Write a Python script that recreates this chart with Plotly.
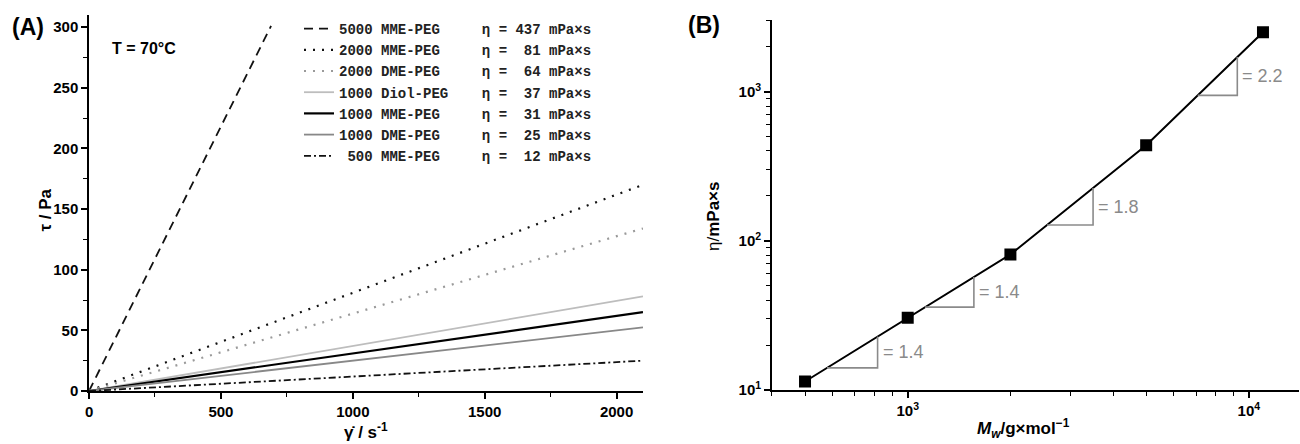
import plotly.graph_objects as go
import numpy as np

NB = "\u00a0"

# ---------------- Panel A data ----------------
series_names = ["5000 MME-PEG", "2000 MME-PEG", "2000 DME-PEG", "1000 Diol-PEG",
                "1000 MME-PEG", "1000 DME-PEG", "500 MME-PEG"]
series_eta = [437, 81, 64, 37, 31, 25, 12]
series_x = [[0, 690], [0, 2100], [0, 2100], [0, 2100], [0, 2100], [0, 2100], [0, 2100]]
series_tau = [[0, 301], [0, 170], [0, 134], [0, 78], [0, 65], [0, 52.5], [0, 25]]
series_color = ["#111111", "#111111", "#9a9a9a", "#bdbdbd", "#000000", "#888888", "#111111"]
series_dash = ["9px,6px", "2px,7px", "2px,7px", "solid", "solid", "solid", "7px,3px,2px,3px"]
series_width = [1.8, 2.2, 2.2, 1.8, 2.2, 1.8, 1.8]

x_ticks_A = [0, 500, 1000, 1500, 2000]
y_ticks_A = [0, 50, 100, 150, 200, 250, 300]

# ---------------- Panel B data ----------------
Mw = [500, 1000, 2000, 5000, 11000]
eta = [11.4, 30.5, 81, 437, 2500]
tri_x0 = [580, 1124, 2560, 7080]
tri_x1 = [816, 1563, 3494, 9250]
tri_labels = ["= 1.4", "= 1.4", "= 1.8", "= 2.2"]

y_ticks_B = [10, 100, 1000]
y_ticktext_B = ["10<sup>1</sup>", "10<sup>2</sup>", "10<sup>3</sup>"]
x_ticks_B = [1000, 10000]
x_ticktext_B = ["10<sup>3</sup>", "10<sup>4</sup>"]
y_minor_B = [20, 30, 40, 50, 60, 70, 80, 90, 200, 300, 400, 500, 600, 700, 800, 900, 2000, 3000]
x_minor_B = [400, 500, 600, 700, 800, 900, 2000, 3000, 4000, 5000, 6000, 7000, 8000, 9000]

FONT = "Liberation Sans, Arial, sans-serif"
MONO = "Liberation Mono, Courier New, monospace"

fig = go.Figure()


def legend_label(name, e):
    nm = name if not name.startswith("500 ") else " " + name
    nm = nm.ljust(17)
    es = "η = " + str(e).rjust(3) + " mPa×s"
    return (nm + es).replace(" ", NB)


for i, nm in enumerate(series_names):
    fig.add_trace(go.Scatter(
        x=series_x[i], y=series_tau[i], mode="lines",
        line=dict(color=series_color[i], dash=series_dash[i], width=series_width[i]),
        name=legend_label(nm, series_eta[i]), xaxis="x", yaxis="y"))

# Panel B line + markers
fig.add_trace(go.Scatter(
    x=Mw, y=eta, mode="lines+markers", showlegend=False,
    line=dict(color="black", width=2),
    marker=dict(symbol="square", size=12, color="black"),
    xaxis="x2", yaxis="y2"))

# slope triangles
lx = np.log10(Mw)
ly = np.log10(eta)
for x0, x1, lab in zip(tri_x0, tri_x1, tri_labels):
    y0 = 10 ** np.interp(np.log10(x0), lx, ly)
    y1 = 10 ** np.interp(np.log10(x1), lx, ly)
    fig.add_trace(go.Scatter(
        x=[x0, x1, x1], y=[y0, y0, y1], mode="lines", showlegend=False,
        line=dict(color="#8a8a8a", width=1.6), xaxis="x2", yaxis="y2"))
    fig.add_annotation(
        x=np.log10(x1), y=(np.log10(y0) + np.log10(y1)) / 2, xref="x2", yref="y2",
        text=lab, showarrow=False, xanchor="left", yanchor="middle", xshift=3,
        font=dict(family=FONT, size=18, color="#8a8a8a"))

axis_common = dict(showline=True, linecolor="black", linewidth=1.6, ticks="outside",
                   ticklen=6, tickwidth=1.5, tickcolor="black", showgrid=False,
                   zeroline=False, mirror=False, automargin=False,
                   tickfont=dict(family=FONT, size=15, color="black", weight="bold"))

fig.update_layout(
    template="none",
    width=1300, height=444,
    margin=dict(l=0, r=0, t=0, b=0, autoexpand=False),
    paper_bgcolor="white", plot_bgcolor="white",
    xaxis=dict(domain=[0.0685, 0.4946], range=[0, 2100], anchor="y",
               tickmode="array", tickvals=x_ticks_A,
               minor=dict(ticks="outside", ticklen=4, tickwidth=1.3, tickcolor="black", dtick=250),
               **axis_common),
    yaxis=dict(domain=[0.1194, 0.9662], range=[0, 310], anchor="x",
               tickmode="array", tickvals=y_ticks_A,
               minor=dict(ticks="outside", ticklen=4, tickwidth=1.3, tickcolor="black", dtick=25),
               **axis_common),
    xaxis2=dict(domain=[0.5938, 0.9995], type="log", range=[2.602, 4.148], anchor="y2",
                tickmode="array", tickvals=x_ticks_B, ticktext=x_ticktext_B,
                minor=dict(ticks="outside", ticklen=4, tickwidth=1.3, tickcolor="black",
                           tickvals=x_minor_B),
                **axis_common),
    yaxis2=dict(domain=[0.1216, 0.955], type="log", range=[1, 3.48], anchor="x2",
                tickmode="array", tickvals=y_ticks_B, ticktext=y_ticktext_B,
                minor=dict(ticks="outside", ticklen=4, tickwidth=1.3, tickcolor="black",
                           tickvals=y_minor_B),
                **axis_common),
    legend=dict(x=299 / 1300, y=1 - 13 / 444, xanchor="left", yanchor="top",
                bgcolor="rgba(0,0,0,0)", borderwidth=0,
                font=dict(family=MONO, size=14, color="#222222", weight="bold"),
                tracegroupgap=0),
    showlegend=True,
)

annots = [
    dict(x=10 / 1300, y=1 - 27 / 444, text="<b>(A)</b>", size=23, xanchor="left"),
    dict(x=686 / 1300, y=1 - 25 / 444, text="<b>(B)</b>", size=23, xanchor="left"),
    dict(x=110 / 1300, y=1 - 48 / 444, text="<b>T = 70°C</b>", size=16, xanchor="left"),
    dict(x=366 / 1300, y=1 - 431 / 444, text="<b>γ̇ / s<sup>-1</sup></b>", size=17, xanchor="center"),
    dict(x=1023 / 1300, y=1 - 428 / 444, text="<b><i>M</i><sub><i>w</i></sub>/g×mol<sup>−1</sup></b>",
         size=17, xanchor="center"),
]
for a in annots:
    fig.add_annotation(x=a["x"], y=a["y"], xref="paper", yref="paper", text=a["text"],
                       showarrow=False, xanchor=a["xanchor"], yanchor="middle",
                       font=dict(family=FONT, size=a["size"], color="black"))

fig.add_annotation(x=33 / 1300, y=1 - 210 / 444, xref="paper", yref="paper",
                   text="<b>τ / Pa</b>", textangle=-90, showarrow=False,
                   font=dict(family=FONT, size=17, color="black"))
fig.add_annotation(x=713 / 1300, y=1 - 217 / 444, xref="paper", yref="paper",
                   text="η/<b>mPa×s</b>", textangle=-90, showarrow=False,
                   font=dict(family=FONT, size=17, color="black"))

fig.write_html("out.html", config={"displayModeBar": False},
               post_script="document.body.style.margin='0';")
